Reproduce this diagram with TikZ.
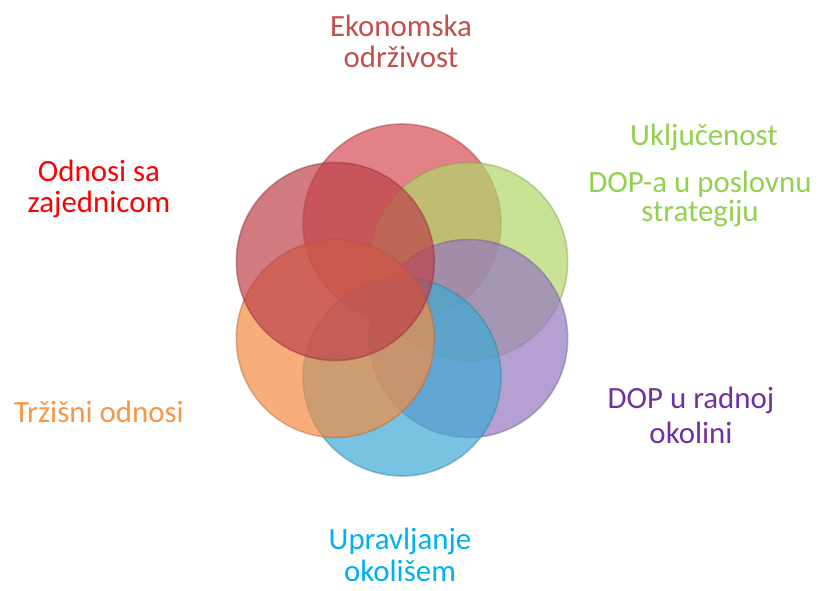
\documentclass[tikz,border=0pt]{standalone}
\usepackage{fontspec}
\setmainfont{Carlito}
\usepackage{xcolor}
\usepackage{tikz}
\usetikzlibrary{positioning,calc}

\definecolor{petalPink}{RGB}{214,76,84}
\definecolor{petalGreen}{RGB}{176,214,105}
\definecolor{petalPurple}{RGB}{150,120,192}
\definecolor{petalBlue}{RGB}{62,170,212}
\definecolor{petalOrange}{RGB}{243,140,66}
\definecolor{petalRed}{RGB}{190,66,74}
\definecolor{txtEkon}{RGB}{192,80,77}
\definecolor{txtGreen}{RGB}{146,208,80}
\definecolor{txtPurple}{RGB}{112,48,160}
\definecolor{txtOrange}{RGB}{247,150,70}
\definecolor{txtBlue}{RGB}{0,176,240}

\begin{document}
\begin{tikzpicture}[x=1bp,y=1bp,
    petal/.style={fill=#1, fill opacity=0.7, draw=#1!75!black, draw opacity=0.45, line width=1.6bp},
    lbl/.style={font=\fontsize{31}{35}\selectfont, align=center, anchor=base, inner sep=0pt}]
    \useasboundingbox (0,0) rectangle (821,591);
    \coordinate (ctr) at (402,291);

    % the six circles
    \foreach \ang/\col in {90/petalPink,30/petalGreen,-30/petalPurple,-90/petalBlue,210/petalOrange,150/petalRed}
        \draw[petal=\col] (ctr) ++(\ang:77) circle[radius=99];

    % labels
    \node[lbl, text=txtEkon] (ekon) at (401,523) {Ekonomska\\[-3bp]održivost};
    \node[lbl, text=red] (zajed) at (99,378) {Odnosi sa\\[-3bp]zajednicom};
    \node[lbl, text=txtGreen] (uklj) at (704,445) {Uključenost};
    \node[lbl, text=txtGreen] (strat) at (700,369) {DOP-a u poslovnu\\[-5bp]strategiju};
    \node[lbl, text=txtPurple] (radna) at (691,147) {DOP u radnoj\\[1bp]okolini};
    \node[lbl, text=txtOrange] (trzis) at (99,168) {Tržišni odnosi};
    \node[lbl, text=txtBlue] (okolis) at (400,9) {Upravljanje\\[-2bp]okolišem};
\end{tikzpicture}
\end{document}
